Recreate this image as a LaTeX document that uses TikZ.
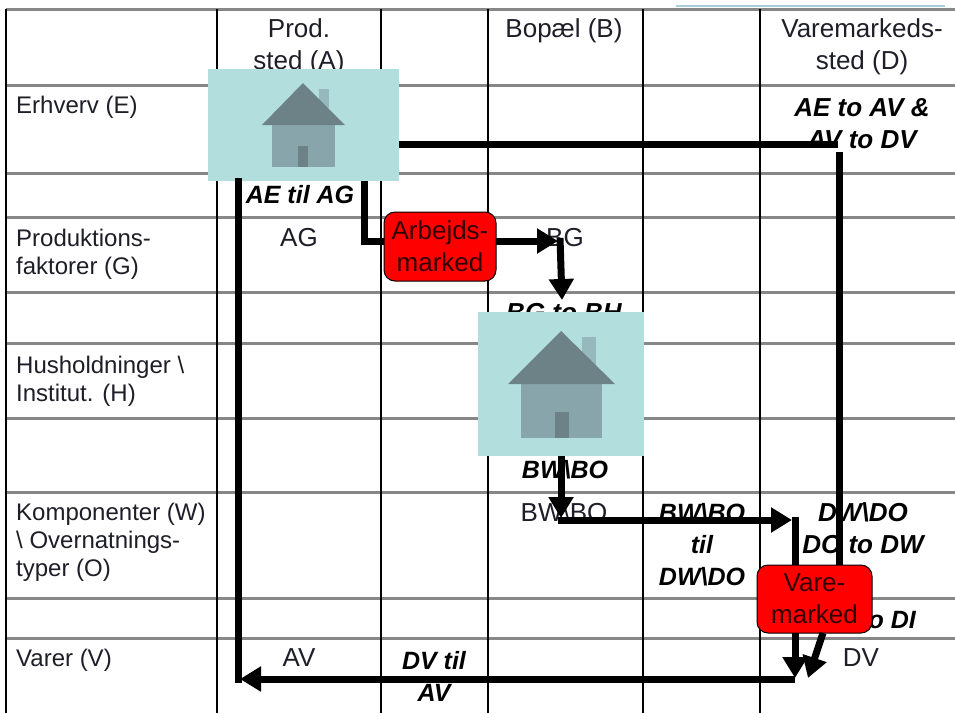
\documentclass[tikz,border=0pt]{standalone}
\usepackage{fontspec}
\setmainfont{Liberation Sans}
\usetikzlibrary{arrows.meta}
\definecolor{rowline}{RGB}{135,135,135}
\definecolor{housebg}{RGB}{178,222,222}
\definecolor{roofc}{RGB}{108,130,135}
\definecolor{wallc}{RGB}{135,165,170}
\definecolor{doorc}{RGB}{108,130,135}
\definecolor{chimc}{RGB}{150,185,190}
\definecolor{inktext}{RGB}{30,30,40}
\tikzset{
  x=1pt,y=-1pt,
  rowrule/.style={rowline,line width=3pt},
  colrule/.style={black,line width=1.6pt},
  lbl/.style={font=\fontsize{24}{28}\selectfont,text=inktext,align=left,anchor=north west,inner sep=0pt},
  ctr/.style={font=\fontsize{26}{31.5}\selectfont,text=inktext,align=center,inner sep=0pt},
  ital/.style={font=\fontsize{25}{32}\selectfont\bfseries\itshape,text=black,align=center,inner sep=0pt},
  italb/.style={font=\fontsize{26}{32}\selectfont\bfseries\itshape,text=black,align=center,inner sep=0pt},
  market/.style={draw=black,line width=1pt,fill=red,rounded corners=11pt,inner sep=0pt,align=center,font=\fontsize{26}{32}\selectfont,text=black!80!red},
  housebox/.style={fill=housebg,draw=none,inner sep=0pt},
  flow/.style={black,line width=7pt},
  flowtip/.style={black,line width=7pt,-{Triangle[length=21pt,width=24pt]}}
}
\begin{document}
\begin{tikzpicture}
\useasboundingbox (0,0) rectangle (955,713);
\fill[white] (0,0) rectangle (955,713);
\draw[color={rgb,255:red,170;green,205;blue,220},line width=2pt] (676,6) -- (945,6);
% grid
\foreach \y in {9,85,173,217,292,343,418,492,598,638}
  \draw[rowrule] (6,\y) -- (955,\y);
\foreach \x in {6,217,381,488,643,760}
  \draw[colrule] (\x,9) -- (\x,713);
% column heads
\node[ctr] (hA) at (299,47) {Prod.\\sted (A)};
\node[ctr] (hB) at (564,31) {Bopæl (B)};
\node[ctr] (hD) at (862,47) {Varemarkeds-\\sted (D)};
% row heads
\node[lbl] (rE) at (16,96) {Erhverv (E)};
\node[lbl] (rG) at (16,229) {Produktions-\\faktorer (G)};
\node[lbl] (rH) at (16,356) {Husholdninger \textbackslash\\Institut. (H)};
\node[lbl] (rW) at (16,503) {Komponenter (W)\\\textbackslash{} Overnatnings-\\typer (O)};
\node[lbl] (rV) at (16,649) {Varer (V)};
% cell texts
\node[ctr] (AG) at (299,238) {AG};
\node[ctr] (BG) at (565,238) {BG};
\node[ctr] (AV) at (299,658) {AV};
\node[ctr] (DV) at (861,658) {DV};
\node[ctr] (BW) at (564,512) {BW\textbackslash BO};
\node[ital] (t1) at (300,195) {AE til AG};
\node[italb] (t2) at (862,124) {AE to AV \&\\AV to DV};
\node[italb] (t3) at (564,313) {BG to BH};
\node[ital] (t4) at (565,470) {BW\textbackslash BO};
\node[ital] (t5) at (702,545) {BW\textbackslash BO\\til\\DW\textbackslash DO};
\node[italb] (t6) at (863,528) {DW\textbackslash DO\\DO to DW};
\node[ital,anchor=east] (t7) at (916,620) {DO to DI};
\node[ital] (t8) at (434,676) {DV til\\AV};
% houses
\node[housebox,minimum width=191pt,minimum height=112pt] (h1) at (303.5,125) {};
\fill[wallc] (272,123) rectangle (335,167);
\fill[doorc] (298,146) rectangle (308,167);
\fill[chimc] (319,89) rectangle (329,108);
\fill[roofc] (262,125) -- (303,83) -- (345,125) -- cycle;
\node[housebox,minimum width=166pt,minimum height=144pt] (h2) at (561,384) {};
\fill[wallc] (521,383) rectangle (602,438);
\fill[doorc] (555,412) rectangle (569,438);
\fill[chimc] (582,337) rectangle (596,365);
\fill[roofc] (508,384) -- (561,331) -- (615,384) -- cycle;
% markets
\node[market,minimum width=112pt,minimum height=69pt] (m1) at (440,246.5) {Arbejds-\\marked};
\node[market,minimum width=115pt,minimum height=68pt] (m2) at (814.5,599) {Vare-\\marked};
% corners
\coordinate (p1a) at (399,144);
\coordinate (p1b) at (838,144);
\coordinate (c1) at (839,152);
\coordinate (l1) at (238,181);
\coordinate (l2) at (238,679);
\coordinate (l2t) at (240,679);
\coordinate (l3) at (795,679);
\coordinate (r1) at (364,181);
\coordinate (r2) at (364,241);
\coordinate (g1) at (496,241);
\coordinate (g2) at (558,241);
\coordinate (g3) at (560,238);
\coordinate (g4) at (562,300);
\coordinate (w1) at (561,456);
\coordinate (w2) at (561,518);
\coordinate (w3) at (558,520);
\coordinate (w4) at (792,520);
\coordinate (d1) at (795,517);
\coordinate (d2) at (795,565);
\coordinate (d3) at (795,633);
\coordinate (d4) at (795,678);
\coordinate (e1) at (823,633);
\coordinate (e2) at (808,678);
% connectors
\draw[flow] (p1a) -- (p1b);
\draw[flow] (c1) -- (c1 |- m2.north);
\draw[flow,line cap=rect] (l1) -- (l2);
\draw[flowtip] (l3) -- (l2t);
\draw[flow] (r1) -- (r2) -- (m1.west |- r2);
\draw[flowtip] (g1) -- (g2);
\draw[flowtip] (g3) -- (g4);
\draw[flowtip] (w1) -- (w2);
\draw[flowtip] (w3) -- (w4);
\draw[flow] (d1) -- (d2);
\draw[flowtip] (d3) -- (d4);
\draw[flowtip] (e1) -- (e2);
\end{tikzpicture}
\end{document}
